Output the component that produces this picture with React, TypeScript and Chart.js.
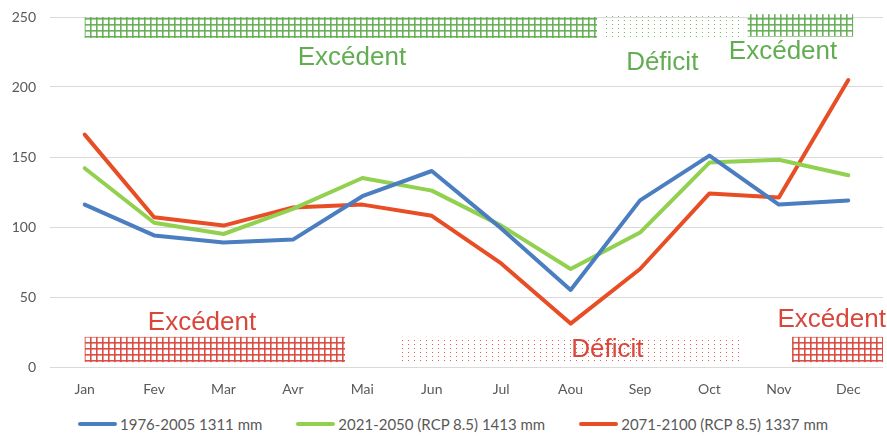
import React, { useEffect, useRef } from "react";
import { Chart, registerables } from "chart.js";

Chart.register(...registerables);

const months = ["Jan", "Fev", "Mar", "Avr", "Mai", "Jun", "Jul", "Aou", "Sep", "Oct", "Nov", "Dec"];
const series1976 = [116, 94, 89, 91, 122, 140, 99, 55, 119, 151, 116, 119];
const series2021 = [142, 103, 95, 113, 135, 126, 101, 70, 96, 146, 148, 137];
const series2071 = [166, 107, 101, 114, 116, 108, 74, 31, 70, 124, 121, 205];
const seriesLabels = ["1976-2005 1311 mm", "2021-2050 (RCP 8.5) 1413 mm", "2071-2100 (RCP 8.5) 1337 mm"];
const seriesColors = ["#4A7EC0", "#92D050", "#E84E26"];
const yMin = 0;
const yMax = 250;
const yStep = 50;

const GREEN = "#62AD52";
const RED = "#D9463A";

// bands: month-index span and value span
const bandFrom = [0, 7.48, 9.55, 0, 4.51, 10.19];
const bandTo = [7.38, 9.47, 11.07, 3.75, 9.47, 11.5];
const bandLow = [235, 235, 236, 3.5, 4, 3.5];
const bandHigh = [250, 251, 252, 21.5, 21.5, 21.5];
const bandKind = ["grid", "dots", "grid", "grid", "dots", "grid"];
const bandColor = [GREEN, GREEN, GREEN, RED, RED, RED];

// annotation texts
const noteText = ["Excédent", "Déficit", "Excédent", "Excédent", "Déficit", "Excédent"];
const noteIndex = [3.85, 8.32, 10.06, 1.69, 7.53, 9.98];
const noteValue = [220.5, 217, 225, 31.4, 12.3, 33.5];
const noteAlign = ["center", "center", "center", "center", "center", "left"];
const noteColor = [GREEN, GREEN, GREEN, RED, RED, RED];

function makePattern(ctx: CanvasRenderingContext2D, kind: string, color: string) {
  const c = document.createElement("canvas");
  if (kind === "grid") {
    c.width = 6;
    c.height = 6;
    const p = c.getContext("2d")!;
    p.fillStyle = color;
    p.globalAlpha = 0.95;
    p.fillRect(0, 0, 1.6, 6);
    p.fillRect(0, 0, 6, 1.6);
  } else {
    c.width = 6;
    c.height = 4;
    const p = c.getContext("2d")!;
    p.fillStyle = color;
    p.globalAlpha = 0.85;
    p.fillRect(0, 0, 1, 1);
  }
  return ctx.createPattern(c, "repeat")!;
}

const bandsPlugin = {
  id: "bandsPlugin",
  beforeDatasetsDraw(chart: any) {
    const { ctx, scales } = chart;
    const x = scales.x;
    const y = scales.y;
    for (let i = 0; i < bandFrom.length; i++) {
      const x0 = x.getPixelForValue(bandFrom[i]);
      const x1 = x.getPixelForValue(bandTo[i]);
      const y0 = y.getPixelForValue(bandHigh[i]);
      const y1 = y.getPixelForValue(bandLow[i]);
      ctx.save();
      ctx.fillStyle = makePattern(ctx, bandKind[i], bandColor[i]);
      ctx.fillRect(x0, y0, x1 - x0, y1 - y0);
      ctx.restore();
    }
    for (let i = 0; i < noteText.length; i++) {
      ctx.save();
      ctx.font = "26px 'Liberation Sans', Arial, sans-serif";
      ctx.fillStyle = noteColor[i];
      ctx.textAlign = noteAlign[i];
      ctx.textBaseline = "middle";
      ctx.fillText(noteText[i], x.getPixelForValue(noteIndex[i]), y.getPixelForValue(noteValue[i]));
      ctx.restore();
    }
  },
};

export default function App() {
  const ref = useRef<HTMLCanvasElement>(null);

  useEffect(() => {
    document.body.style.margin = "0";
    const canvas = ref.current!;
    const chart = new Chart(canvas, {
      type: "line",
      data: {
        labels: months,
        datasets: [series1976, series2021, series2071].map((d, i) => ({
          label: seriesLabels[i],
          data: d,
          borderColor: seriesColors[i],
          backgroundColor: seriesColors[i],
          borderWidth: 4,
          pointRadius: 0,
          tension: 0,
          borderJoinStyle: "round" as const,
          borderCapStyle: "round" as const,
          fill: false,
        })),
      },
      options: {
        animation: false,
        responsive: false,
        devicePixelRatio: 1,
        layout: { padding: { top: 17, right: 4, left: 0, bottom: 0 } },
        plugins: {
          legend: { display: false },
          tooltip: { enabled: false },
        },
        scales: {
          x: {
            offset: true,
            grid: { display: false, drawTicks: false },
            border: { display: false },
            ticks: {
              color: "#595959",
              font: { family: "Lato, 'Liberation Sans', sans-serif", size: 14 },
              padding: 14,
              maxRotation: 0,
            },
            afterFit: (s: any) => {
              s.height = 45;
            },
          },
          y: {
            min: yMin,
            max: yMax,
            grid: { color: "#D9D9D9", lineWidth: 1, drawTicks: false },
            border: { display: false },
            ticks: {
              stepSize: yStep,
              color: "#595959",
              font: { family: "Lato, 'Liberation Sans', sans-serif", size: 14 },
              padding: 14,
            },
            afterFit: (s: any) => {
              s.width = 50;
              s.paddingTop = 0;
              s.paddingBottom = 0;
            },
          },
        },
      },
      plugins: [bandsPlugin],
    });
    return () => chart.destroy();
  }, []);

  return (
    <div style={{ position: "relative", width: 887, height: 436, background: "#fff" }}>
      <canvas ref={ref} width={887} height={412} style={{ display: "block" }} />
      <div
        style={{
          position: "absolute",
          left: 78,
          top: 412,
          height: 24,
          display: "flex",
          alignItems: "center",
          gap: 34,
          fontFamily: "Lato, 'Liberation Sans', sans-serif",
          fontSize: 15,
          color: "#595959",
          whiteSpace: "nowrap",
        }}
      >
        {seriesLabels.map((l, i) => (
          <div key={l} style={{ display: "flex", alignItems: "center" }}>
            <span
              style={{
                display: "inline-block",
                width: 39,
                height: 4,
                borderRadius: 2,
                background: seriesColors[i],
                marginRight: 3,
              }}
            />
            <span>{l}</span>
          </div>
        ))}
      </div>
    </div>
  );
}
